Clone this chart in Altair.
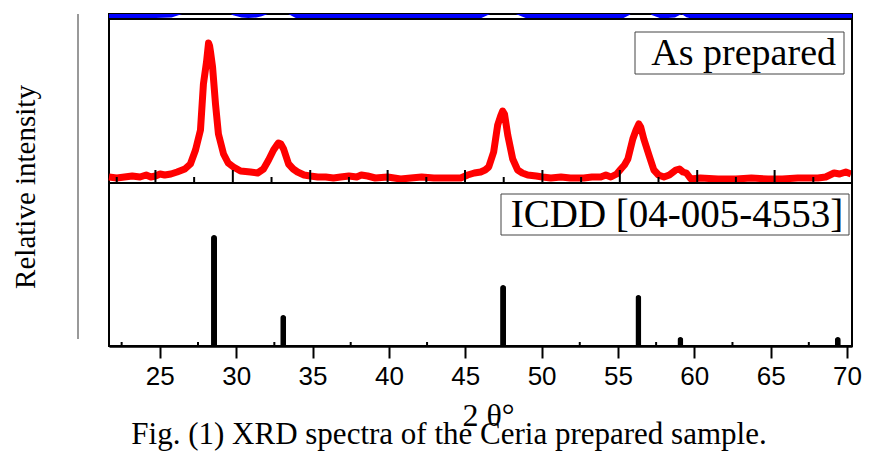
import altair as alt
import pandas as pd

# ---------------- data ----------------
# measured spectrum (As prepared), relative intensity in panel units
red_x = [22.0, 22.5, 23.0, 23.5, 24.0, 24.4, 24.7, 25.0, 25.3, 25.6, 26.0, 26.4, 26.9,
         27.26, 27.59, 27.91, 28.10, 28.30, 28.43, 28.50, 28.56, 28.69, 28.88, 29.07,
         29.40, 29.70, 30.04, 30.5, 31.14, 31.6, 31.98, 32.31, 32.63, 32.85, 32.95,
         33.1, 33.28, 33.60, 33.9, 34.18, 34.6, 35.0, 35.48, 36.0, 36.5, 36.96, 37.5,
         38.0, 38.3, 38.71, 39.2, 40.0, 40.84, 41.5, 42.2, 42.98, 43.8, 44.72, 45.17,
         45.6, 46.01, 46.30, 46.53, 46.85, 47.11, 47.30, 47.43, 47.55, 47.76, 48.08,
         48.40, 48.7, 49.05, 49.6, 50.0, 50.54, 51.2, 51.8, 52.67, 53.2, 53.77, 54.1,
         54.42, 54.8, 55.07, 55.30, 55.52, 55.84, 56.05, 56.23, 56.35, 56.55, 56.88,
         57.20, 57.50, 57.85, 58.2, 58.62, 58.85, 59.08, 59.3, 59.59, 60.2, 61.34, 62.5,
         63.5, 64.57, 65.5, 66.5, 67.3, 67.80, 68.3, 68.84, 69.2, 69.6, 69.94]
red_y = [6, 5, 6, 7, 6, 8, 6, 7, 9, 8, 9, 11, 14,
         19, 33, 53, 99, 121, 140, 137, 131, 116, 79, 49,
         29, 20, 16, 12, 11, 10, 14, 23, 33, 38, 40,
         39, 34, 19, 14, 11, 8, 7, 6, 6, 5, 6, 7,
         6, 8, 7, 5, 6, 4, 5, 6, 5, 5, 5, 8,
         10, 11, 13, 16, 31, 58, 67, 72, 69, 48, 24,
         13, 10, 8, 7, 6, 5, 6, 5, 5, 6, 6, 8,
         6, 9, 14, 18, 24, 44, 53, 59, 56, 44, 28,
         13, 8, 6, 8, 13, 14, 11, 10, 4, 5, 4, 4,
         5, 4, 4, 5, 5, 5, 6, 10, 9, 11, 9]

# top (other sample, only its lower part is visible)
blue_x = [22.0, 23.0, 24.0, 25.0, 26.0, 26.6, 27.0, 28.5, 29.5, 30.1, 30.6, 31.0, 31.5,
          31.8, 32.3, 33.0, 33.7, 34.3, 36.0, 40.0, 44.0, 45.8, 46.5, 47.4, 48.4, 49.2,
          52.0, 55.0, 55.5, 56.3, 57.2, 57.7, 58.5, 59.0, 59.4, 60.0, 65.0, 68.0, 68.6,
          69.3, 70.0]
blue_y = [4, 4, 4, 4.5, 5, 8, 14, 40, 12, 7, 5, 4.5, 5,
          6, 9, 20, 8, 3, 2, 2, 2, 3, 8, 30, 8, 3,
          2, 3, 7, 25, 7, 4, 5, 9, 5, 2.5, 2, 2.5, 4,
          4.5, 3]

# ICDD [04-005-4553] reference lines
icdd_x = [28.55, 33.08, 47.48, 56.34, 59.09, 69.40]
icdd_y = [111, 31, 61, 51, 9, 9]

major_ticks = [25, 30, 35, 40, 45, 50, 55, 60, 65, 70]
minor_ticks = [22.5, 27.5, 32.5, 37.5, 42.5, 47.5, 52.5, 57.5, 62.5, 67.5]

label_top = "As prepared"
label_bottom = "ICDD [04-005-4553]"
y_title = "Relative intensity"
x_title = "2 θ°"
caption = "Fig. (1) XRD spectra of the Ceria prepared sample."

# ---------------- layout ----------------
W = 743
H_TOP = 5
H_MID = 164
H_BOT = 163
SERIF = "Liberation Serif"
SANS = "Liberation Sans"

xscale = alt.Scale(domain=[22, 70], nice=False, zero=False)

red_df = pd.DataFrame({"x": red_x, "y": red_y})
blue_df = pd.DataFrame({"x": blue_x, "y": blue_y})
icdd_df = pd.DataFrame({"x": icdd_x, "y": icdd_y})
maj_df = pd.DataFrame({"x": major_ticks})
min_df = pd.DataFrame({"x": minor_ticks})
one = pd.DataFrame({"a": [0]})

# top panel
top = alt.Chart(blue_df).mark_line(color="#0000ff", strokeWidth=7, clip=True).encode(
    x=alt.X("x:Q", scale=xscale, axis=None),
    y=alt.Y("y:Q", scale=alt.Scale(domain=[0, H_TOP]), axis=None),
).properties(width=W, height=H_TOP)

# middle panel
ymid = alt.Scale(domain=[0, H_MID])
red = alt.Chart(red_df).mark_line(color="#ff0000", strokeWidth=7, strokeJoin="round").encode(
    x=alt.X("x:Q", scale=xscale, axis=None),
    y=alt.Y("y:Q", scale=ymid, axis=None),
)
mid_major = alt.Chart(maj_df).mark_rule(color="black", strokeWidth=2).encode(
    x=alt.X("x:Q", scale=xscale, axis=None),
    y=alt.value(H_MID), y2=alt.value(H_MID - 13),
)
mid_minor = alt.Chart(min_df).mark_rule(color="black", strokeWidth=2).encode(
    x=alt.X("x:Q", scale=xscale, axis=None),
    y=alt.value(H_MID), y2=alt.value(H_MID - 6),
)
box1 = alt.Chart(one).mark_rect(fill="white", stroke="#444", strokeWidth=1).encode(
    x=alt.value(526), x2=alt.value(735), y=alt.value(13), y2=alt.value(55)
)
txt1 = alt.Chart(pd.DataFrame({"t": [label_top]})).mark_text(
    font=SERIF, fontSize=38, align="right", baseline="middle", color="black"
).encode(x=alt.value(727), y=alt.value(35), text="t:N")
ytitle = alt.Chart(pd.DataFrame({"t": [y_title]})).mark_text(
    font=SERIF, fontSize=29, angle=270, align="center", baseline="middle", color="black"
).encode(x=alt.value(-83), y=alt.value(168), text="t:N")
grey = alt.Chart(one).mark_rule(color="#777777", strokeWidth=1.5).encode(
    x=alt.value(-31), y=alt.value(-5), y2=alt.value(320)
)
anchor = alt.Chart(one).mark_rule(strokeOpacity=0, strokeWidth=1).encode(
    x=alt.value(-100), y=alt.value(0), y2=alt.value(10)
)
middle = alt.layer(red, mid_major, mid_minor, box1, txt1, ytitle, grey, anchor).properties(
    width=W, height=H_MID
)

# bottom panel
ybot = alt.Scale(domain=[0, H_BOT])
sticks = alt.Chart(icdd_df).mark_bar(
    color="black", size=6, cornerRadiusTopLeft=3, cornerRadiusTopRight=3
).encode(
    x=alt.X(
        "x:Q", scale=xscale,
        axis=alt.Axis(
            values=major_ticks, title=x_title, grid=False,
            domainColor="black", domainWidth=2.5, tickColor="black", tickWidth=2,
            tickSize=12, labelFont=SANS, labelFontSize=26, labelColor="black",
            labelPadding=5, titleFont=SERIF, titleFontSize=32, titleFontWeight="normal",
            titleColor="black", titlePadding=11, titleX=379,
        ),
    ),
    y=alt.Y("y:Q", scale=ybot, axis=None),
)
bot_minor = alt.Chart(min_df).mark_rule(color="black", strokeWidth=2).encode(
    x=alt.X("x:Q", scale=xscale), y=alt.value(H_BOT), y2=alt.value(H_BOT - 4)
)
box2 = alt.Chart(one).mark_rect(fill="white", stroke="#444", strokeWidth=1).encode(
    x=alt.value(392), x2=alt.value(740), y=alt.value(11), y2=alt.value(52)
)
txt2 = alt.Chart(pd.DataFrame({"t": [label_bottom]})).mark_text(
    font=SERIF, fontSize=39, align="center", baseline="middle", color="black"
).encode(x=alt.value(568), y=alt.value(32), text="t:N")
cap = alt.Chart(pd.DataFrame({"t": [caption]})).mark_text(
    font=SERIF, fontSize=31, align="center", baseline="middle", color="black"
).encode(x=alt.value(340), y=alt.value(252), text="t:N")
bottom = alt.layer(sticks, bot_minor, box2, txt2, cap).properties(width=W, height=H_BOT)

chart = alt.vconcat(top, middle, bottom, spacing=0, bounds="flush").configure_view(
    stroke="black", strokeWidth=2
).properties(
    padding={"left": 0, "top": 4, "right": 0, "bottom": 0},
    background="white",
)

chart.save("out.html", embed_options={"renderer": "svg", "actions": False})
